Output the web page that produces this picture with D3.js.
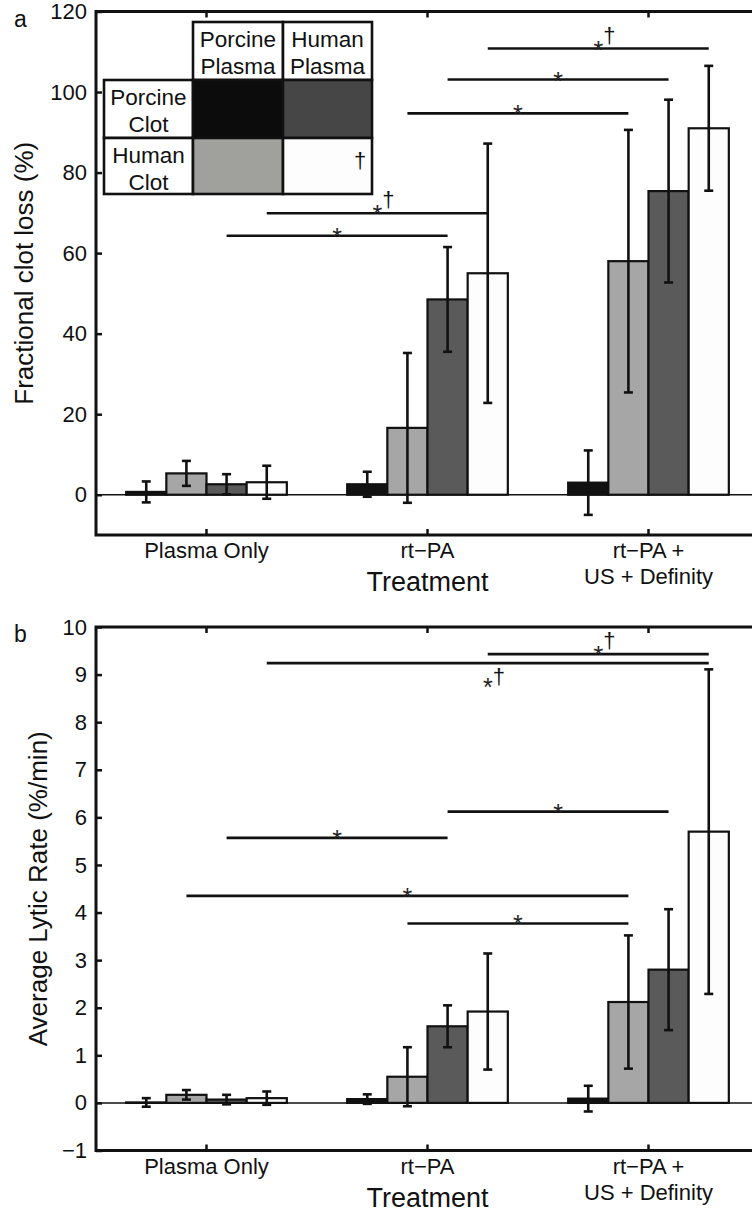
<html>
<head>
<meta charset="utf-8">

<!-- Load d3.js -->
<script src="https://d3js.org/d3.v7.min.js"></script>

</head>

<body style="margin:0;background:#fff;">

  <!-- View container -->
  <div id="d3_visualisation"></div>

</body>

<script>

// ---- data ----
var categories = [["Plasma Only"], ["rt\u2212PA"], ["rt\u2212PA +", "US + Definity"]];
var clotTypes = ["Porcine Clot", "Human Clot"];
var plasmaTypes = ["Porcine Plasma", "Human Plasma"];
// series order in each group: PC/PP, HC/PP, PC/HP, HC/HP
var seriesColors = ["#111111", "#a6a6a6", "#5a5a5a", "#fdfdfd"];
var legendColors = ["#0c0c0c", "#a0a19c", "#464646", "#fdfdfd"];

var lossMean = [[0.7, 5.3, 2.6, 3.1], [2.6, 16.6, 48.5, 55.0], [3.0, 58.0, 75.4, 91.0]];
var lossErr  = [[2.6, 3.1, 2.5, 4.1], [3.1, 18.6, 13.0, 32.2], [8.0, 32.6, 22.7, 15.5]];
var lossTicks = [0, 20, 40, 60, 80, 100, 120];

var rateMean = [[0.01, 0.17, 0.07, 0.10], [0.08, 0.55, 1.61, 1.92], [0.09, 2.12, 2.80, 5.70]];
var rateErr  = [[0.09, 0.10, 0.10, 0.14], [0.10, 0.62, 0.44, 1.22], [0.27, 1.40, 1.27, 3.41]];
var rateTicks = [-1, 0, 1, 2, 3, 4, 5, 6, 7, 8, 9, 10];

// significance bars: [group, series, group, series, y, label, labelBelow]
var lossSig = [
  [1, 3, 2, 3, 110.8, "*\u2020", false],
  [1, 2, 2, 2, 103.1, "*", false],
  [1, 1, 2, 1, 94.7, "*", false],
  [0, 3, 1, 3, 69.9, "*\u2020", false],
  [0, 2, 1, 2, 64.3, "*", false]
];
var rateSig = [
  [1, 3, 2, 3, 9.43, "*\u2020", false],
  [0, 3, 2, 3, 9.24, "*\u2020", true],
  [1, 2, 2, 2, 6.12, "*", false],
  [0, 2, 1, 2, 5.57, "*", false],
  [0, 1, 2, 1, 4.35, "*", false],
  [1, 1, 2, 1, 3.77, "*", false]
];

var font = "'Liberation Sans', Arial, Helvetica, sans-serif";
var plotLeft = 96, plotRight = 759;

var svg = d3.select("#d3_visualisation")
  .append("svg")
    .attr("width", 752)
    .attr("height", 1212)
    .style("background", "#fff")
    .attr("font-family", font);

// groups and bars inside a group
var x0 = d3.scaleBand()
  .domain(d3.range(categories.length))
  .range([plotLeft, plotRight]);
var groupWidth = x0.bandwidth() * 0.727;
var x1 = d3.scaleBand()
  .domain(d3.range(seriesColors.length))
  .range([0, groupWidth]);

function barLeft(g, s) {
  return x0(g) + (x0.bandwidth() - groupWidth) / 2 + x1(s);
}
function barCenter(g, s) {
  return barLeft(g, s) + x1.bandwidth() / 2;
}

function drawPanel(p) {
  var y = d3.scaleLinear()
    .domain(p.domain)
    .range([p.bottom, p.top]);

  var g = svg.append("g");

  // baseline at 0
  g.append("line")
    .attr("x1", plotLeft).attr("x2", plotRight)
    .attr("y1", y(0)).attr("y2", y(0))
    .attr("stroke", "#111").attr("stroke-width", 1.5);

  // bars
  p.mean.forEach(function(row, gi) {
    g.selectAll(null)
      .data(row)
      .enter()
      .append("rect")
        .attr("x", function(d, si) { return barLeft(gi, si); })
        .attr("width", x1.bandwidth())
        .attr("y", function(d) { return y(Math.max(d, 0)); })
        .attr("height", function(d) { return Math.abs(y(0) - y(d)); })
        .attr("fill", function(d, si) { return seriesColors[si]; })
        .attr("stroke", "#111")
        .attr("stroke-width", 2.2);
  });

  // error bars
  p.mean.forEach(function(row, gi) {
    row.forEach(function(m, si) {
      var e = p.err[gi][si];
      var cx = barCenter(gi, si);
      var eb = g.append("g").attr("stroke", "#111").attr("stroke-width", 2.6);
      eb.append("line").attr("x1", cx).attr("x2", cx).attr("y1", y(m - e)).attr("y2", y(m + e));
      eb.append("line").attr("x1", cx - 4.5).attr("x2", cx + 4.5).attr("y1", y(m - e)).attr("y2", y(m - e));
      eb.append("line").attr("x1", cx - 4.5).attr("x2", cx + 4.5).attr("y1", y(m + e)).attr("y2", y(m + e));
    });
  });

  // significance bars
  p.sig.forEach(function(s) {
    var xa = barCenter(s[0], s[1]);
    var xb = barCenter(s[2], s[3]);
    var ly = y(s[4]);
    var mid = (xa + xb) / 2;
    g.append("line")
      .attr("x1", xa).attr("x2", xb)
      .attr("y1", ly).attr("y2", ly)
      .attr("stroke", "#111").attr("stroke-width", 2.6);
    g.append("text")
      .attr("x", mid).attr("y", ly + (s[6] ? 33 : 10))
      .attr("text-anchor", "middle")
      .attr("font-size", 25)
      .attr("fill", "#222")
      .text("*");
    if (s[5].length > 1) {
      g.append("text")
        .attr("x", mid + 11).attr("y", ly + (s[6] ? 21 : -6))
        .attr("text-anchor", "middle")
        .attr("font-size", 22)
        .attr("fill", "#111")
        .text("\u2020");
    }
  });

  // y axis
  g.append("g")
    .attr("transform", "translate(" + plotLeft + ",0)")
    .call(d3.axisLeft(y).tickValues(p.ticks).tickSize(-6).tickPadding(9).tickFormat(d3.format("d")))
    .call(function(a) { a.select(".domain").remove(); })
    .attr("font-family", font)
    .attr("font-size", 22)
    .call(function(a) {
      a.selectAll(".tick line").attr("stroke", "#111").attr("stroke-width", 2.5);
      a.selectAll(".tick text").attr("fill", "#111");
    });

  // x axes, bottom and top
  g.append("g")
    .attr("transform", "translate(0," + p.bottom + ")")
    .call(d3.axisBottom(x0).tickSize(-6).tickFormat(""))
    .call(function(a) { a.select(".domain").remove(); })
    .selectAll(".tick line").attr("stroke", "#111").attr("stroke-width", 2.5);
  g.append("g")
    .attr("transform", "translate(0," + p.top + ")")
    .call(d3.axisTop(x0).tickSize(-6).tickFormat(""))
    .call(function(a) { a.select(".domain").remove(); })
    .selectAll(".tick line").attr("stroke", "#111").attr("stroke-width", 2.5);

  // category labels
  categories.forEach(function(lines, gi) {
    var t = g.append("text")
      .attr("text-anchor", "middle")
      .attr("font-size", 22)
      .attr("fill", "#111");
    lines.forEach(function(l, li) {
      t.append("tspan")
        .attr("x", x0(gi) + x0.bandwidth() / 2)
        .attr("y", p.bottom + 23 + li * 26)
        .text(l);
    });
  });

  // axis box
  g.append("rect")
    .attr("x", plotLeft).attr("y", p.top)
    .attr("width", plotRight - plotLeft).attr("height", p.bottom - p.top)
    .attr("fill", "none").attr("stroke", "#111").attr("stroke-width", 3);

  // axis titles
  g.append("text")
    .attr("x", (plotLeft + plotRight) / 2).attr("y", p.bottom + 56)
    .attr("text-anchor", "middle")
    .attr("font-size", 27)
    .attr("fill", "#111")
    .text("Treatment");
  g.append("text")
    .attr("transform", "translate(" + p.ylabelX + "," + (p.top + p.bottom) / 2 + ")rotate(-90)")
    .attr("text-anchor", "middle")
    .attr("font-size", 26)
    .attr("fill", "#111")
    .text(p.ylabel);

  // panel letter
  g.append("text")
    .attr("x", 14).attr("y", p.top + 15)
    .attr("font-size", 23)
    .attr("fill", "#111")
    .text(p.letter);

  return y;
}

drawPanel({
  top: 11.5, bottom: 535, domain: [-10, 120], ticks: lossTicks,
  mean: lossMean, err: lossErr, sig: lossSig,
  ylabel: "Fractional clot loss (%)", ylabelX: 33, letter: "a"
});

drawPanel({
  top: 627, bottom: 1150.5, domain: [-1, 10], ticks: rateTicks,
  mean: rateMean, err: rateErr, sig: rateSig,
  ylabel: "Average Lytic Rate (%/min)", ylabelX: 47, letter: "b"
});

// legend table (panel a)
var legend = svg.append("g").attr("fill", "#111");
var colX = [104, 193, 283, 372];
var rowY = [22, 80, 138, 194];

function cell(x, y, w, h, fill) {
  legend.append("rect")
    .attr("x", x).attr("y", y).attr("width", w).attr("height", h)
    .attr("fill", fill).attr("stroke", "#111").attr("stroke-width", 2.6);
}
function cellText(words, cx, top) {
  var t = legend.append("text")
    .attr("text-anchor", "middle")
    .attr("font-size", 22.5);
  words.forEach(function(w, i) {
    t.append("tspan").attr("x", cx).attr("y", top + 25 + i * 26.5).text(w);
  });
}

plasmaTypes.forEach(function(pl, j) {
  cell(colX[j + 1], rowY[0], colX[j + 2] - colX[j + 1], rowY[1] - rowY[0], "#fff");
  cellText(pl.split(" "), (colX[j + 1] + colX[j + 2]) / 2, rowY[0]);
});
clotTypes.forEach(function(cl, i) {
  cell(colX[0], rowY[i + 1], colX[1] - colX[0], rowY[i + 2] - rowY[i + 1], "#fff");
  cellText(cl.split(" "), (colX[0] + colX[1]) / 2, rowY[i + 1]);
  plasmaTypes.forEach(function(pl, j) {
    var si = j * 2 + i;
    cell(colX[j + 1], rowY[i + 1], colX[j + 2] - colX[j + 1], rowY[i + 2] - rowY[i + 1], legendColors[si]);
  });
});
legend.append("text")
  .attr("x", 360).attr("y", rowY[2] + 30)
  .attr("text-anchor", "middle")
  .attr("font-size", 22)
  .text("\u2020");

</script>

</html>
